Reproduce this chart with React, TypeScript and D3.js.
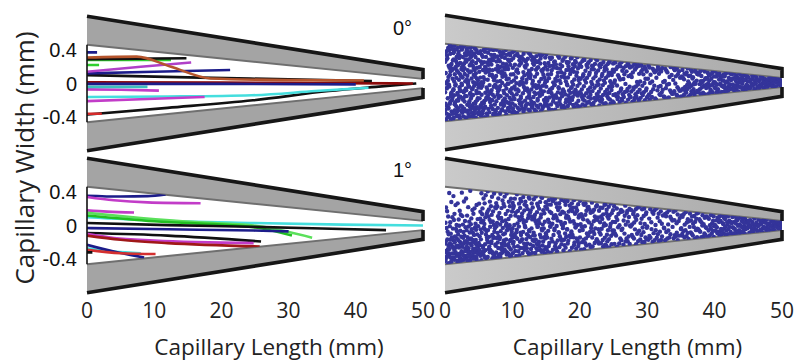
import React from "react";
import * as d3 from "d3";

// Capillary geometry (mm): length and half-widths at the wide end and at the tip
const capLength = [0, 50];
const innerHalfWidth = [0.46, 0.055];
const outerHalfWidth = [0.8, 0.165];

const xTicks = [0, 10, 20, 30, 40, 50];
const yTicks = [0.4, 0, -0.4];
const yTickLabels = ["0.4", "0", "-0.4"];
const angleLabels = ["0°", "1°"];

// Particle trajectories, [x mm, y mm] points, 0° tilt
const trajectoryColors0 = [
  "#111111", "#45dede", "#c23cc8", "#c23cc8", "#3cc0c0", "#8b0a0a", "#1c1c8a", "#111111",
  "#1c1c8a", "#b040c8", "#2fd02f", "#2fd02f", "#111111", "#b5542c", "#1c1c8a", "#d42a2a",
];
const trajectories0: [number, number][][] = [
  [[0, -0.37], [12, -0.29], [24.7, -0.2], [36, -0.09], [43, -0.04], [49, 0]],
  [[0, -0.16], [12, -0.155], [24.5, -0.14], [34, -0.09], [41.9, -0.05]],
  [[0, -0.21], [9, -0.185], [17.5, -0.16]],
  [[0, -0.07], [5, -0.075], [10.7, -0.085]],
  [[0, -0.04], [9, -0.04]],
  [[0, 0.015], [20, 0.012], [35, 0.005], [48.5, 0]],
  [[0, -0.005], [20, -0.005], [40, -0.01]],
  [[0, 0.1], [16.8, 0.07], [30, 0.05], [42.4, 0.03]],
  [[0, 0.12], [10, 0.14], [21.3, 0.16]],
  [[0, 0.14], [8, 0.2], [15.5, 0.25]],
  [[0, 0.28], [12.5, 0.28]],
  [[0, 0.22], [1.8, 0.22]],
  [[0, 0.29], [14.8, 0.3]],
  [[0, 0.31], [7.4, 0.32], [12.5, 0.2], [18.4, 0.06], [30, 0.04], [41.2, 0.035]],
  [[0, 0.37], [1.5, 0.37]],
  [[0, -0.36], [2.2, -0.36]],
];

// Particle trajectories, 1° tilt
const trajectoryColors1 = [
  "#1c1c8a", "#c23cc8", "#c23cc8", "#45dede", "#5be05b", "#22c022", "#111111", "#1c1c8a",
  "#111111", "#c23cc8", "#a01818", "#45dede", "#1c1c8a", "#d43030", "#111111",
];
const trajectories1: [number, number][][] = [
  [[0, 0.355], [5, 0.345], [9, 0.35], [11.7, 0.37]],
  [[0, 0.34], [4, 0.3], [9, 0.275], [16.9, 0.265]],
  [[0, 0.18], [3, 0.165], [7, 0.155]],
  [[0, 0.1], [10, 0.06], [24.8, 0.03], [38, 0.01], [50, 0]],
  [[0, 0.15], [8, 0.09], [16, 0.04], [24.8, 0], [33.5, -0.145]],
  [[0, 0.12], [10, 0.05], [24.8, -0.02], [30.5, -0.12]],
  [[0, 0.03], [12, 0.005], [24.2, -0.015], [35, -0.035], [44.5, -0.055]],
  [[0, -0.03], [12, -0.045], [24.8, -0.06], [30, -0.07]],
  [[0, -0.09], [12, -0.12], [25.9, -0.19]],
  [[0, -0.1], [4, -0.15], [10, -0.18], [24.8, -0.21]],
  [[0, -0.12], [5, -0.17], [12, -0.21], [25.7, -0.25]],
  [[0, -0.27], [4, -0.31], [8, -0.33]],
  [[0, -0.23], [4, -0.31], [8.5, -0.38]],
  [[0, -0.29], [5, -0.33], [10.2, -0.34]],
  [[0, -0.32], [0.8, -0.32]],
];

// Particle counts per 5 mm segment (rows) and per sixth of the channel width,
// from the upper wall (first) to the lower wall (last)
const particleCounts0 = [
  [40, 36, 32, 36, 36, 44],
  [32, 29, 25, 29, 32, 37],
  [29, 24, 21, 24, 25, 31],
  [23, 21, 20, 21, 23, 25],
  [23, 17, 15, 16, 21, 23],
  [20, 13, 9, 12, 16, 21],
  [15, 9, 7, 8, 12, 16],
  [15, 13, 12, 13, 15, 16],
  [15, 14, 14, 14, 14, 15],
  [11, 11, 11, 11, 11, 11],
];
const particleCounts1 = [
  [5, 11, 19, 28, 45, 52],
  [15, 20, 23, 26, 31, 38],
  [20, 20, 20, 23, 26, 27],
  [19, 19, 16, 19, 20, 20],
  [18, 16, 15, 15, 16, 18],
  [15, 12, 11, 11, 12, 15],
  [12, 9, 8, 8, 9, 14],
  [12, 11, 9, 11, 11, 14],
  [13, 13, 12, 13, 13, 13],
  [10, 10, 10, 10, 10, 10],
];

const W = 795;
const H = 364;
const FONT_SANS = "'Open Sans', 'Liberation Sans', sans-serif";
const FONT_ARIAL = "'Liberation Sans', Arial, sans-serif";

const xLeft = d3.scaleLinear().domain(capLength).range([87, 423]);
const xRight = d3.scaleLinear().domain(capLength).range([445, 782]);
const pxPerMm = 84;
const yScale = (center: number) =>
  d3.scaleLinear().domain([-1, 1]).range([center + pxPerMm, center - pxPerMm]);

const innerAt = d3.scaleLinear().domain(capLength).range(innerHalfWidth);
const outerAt = d3.scaleLinear().domain(capLength).range(outerHalfWidth);

type Scale = d3.ScaleLinear<number, number>;

// Radical inverse, used to spread a cell's particles evenly inside it
function halton(index: number, base: number) {
  let f = 1;
  let r = 0;
  let i = index;
  while (i > 0) {
    f /= base;
    r += f * (i % base);
    i = Math.floor(i / base);
  }
  return r;
}

function Walls({ x, y, fill }: { x: Scale; y: Scale; fill: string }) {
  const [x0, x1] = capLength;
  return (
    <g>
      {[1, -1].map((s) => {
        const poly = [
          [x(x0), y(s * outerAt(x0))],
          [x(x1), y(s * outerAt(x1))],
          [x(x1), y(s * innerAt(x1))],
          [x(x0), y(s * innerAt(x0))],
        ];
        const outerPath = `M${x(x0)},${y(s * outerAt(x0))}L${x(x1)},${y(s * outerAt(x1))}L${x(
          x1
        )},${y(s * innerAt(x1))}`;
        const innerPath = `M${x(x0)},${y(s * innerAt(x0))}L${x(x1)},${y(s * innerAt(x1))}`;
        return (
          <g key={s}>
            <polygon points={poly.map((p) => p.join(",")).join(" ")} fill={fill} />
            <path d={innerPath} stroke="#6f6f6f" strokeWidth={2} fill="none" />
            <path d={outerPath} stroke="#161616" strokeWidth={3.6} fill="none" />
          </g>
        );
      })}
    </g>
  );
}

function channelPath(x: Scale, y: Scale) {
  const [x0, x1] = capLength;
  return `M${x(x0)},${y(innerAt(x0))}L${x(x1)},${y(innerAt(x1))}L${x(x1)},${y(
    -innerAt(x1)
  )}L${x(x0)},${y(-innerAt(x0))}Z`;
}

const line = (x: Scale, y: Scale) =>
  d3
    .line<[number, number]>()
    .x((d) => x(d[0]))
    .y((d) => y(d[1]))
    .curve(d3.curveMonotoneX);

function TrajectoryPanel({
  y,
  paths,
  colors,
  label,
  clipId,
}: {
  y: Scale;
  paths: [number, number][][];
  colors: string[];
  label: string;
  clipId: string;
}) {
  const x = xLeft;
  const gen = line(x, y);
  return (
    <g>
      <Walls x={x} y={y} fill="#a4a4a4" />
      <clipPath id={clipId}>
        <path d={channelPath(x, y)} />
      </clipPath>
      <g clipPath={`url(#${clipId})`}>
        {paths.map((p, i) => (
          <path key={i} d={gen(p) || ""} stroke={colors[i]} strokeWidth={2.6} fill="none" />
        ))}
      </g>
      <line
        x1={x(0)}
        x2={x(0)}
        y1={y(innerAt(0))}
        y2={y(-innerAt(0))}
        stroke="#111"
        strokeWidth={1.6}
      />
      {yTicks.map((t, i) => (
        <text
          key={t}
          x={77}
          y={y(t)}
          dy="0.36em"
          textAnchor="end"
          fontFamily={FONT_ARIAL}
          fontSize={20}
          fill="#111"
        >
          {yTickLabels[i]}
        </text>
      ))}
      <text
        x={412}
        y={y(0.58)}
        textAnchor="end"
        fontFamily={FONT_ARIAL}
        fontSize={20}
        fill="#111"
      >
        {label}
      </text>
    </g>
  );
}

function ParticlePanel({
  y,
  counts,
  clipId,
}: {
  y: Scale;
  counts: number[][];
  clipId: string;
}) {
  const x = xRight;
  const binW = (capLength[1] - capLength[0]) / counts.length;
  const dots: { cx: number; cy: number }[] = [];
  let index = 1;
  counts.forEach((row, i) => {
    row.forEach((n, j) => {
      for (let k = 0; k < n; k++, index++) {
        const u = halton(index, 2);
        const v = halton(index, 3);
        const xm = (i + u) * binW;
        const t = (j + v) / row.length;
        const ym = innerAt(xm) * (1 - 2 * t);
        dots.push({ cx: x(xm), cy: y(ym) });
      }
    });
  });
  const grad = clipId + "-grad";
  return (
    <g>
      <defs>
        <linearGradient id={grad} x1="0" x2="1" y1="0" y2="0">
          <stop offset="0" stopColor="#cacaca" />
          <stop offset="1" stopColor="#a9a9a9" />
        </linearGradient>
      </defs>
      <Walls x={x} y={y} fill={`url(#${grad})`} />
      <clipPath id={clipId}>
        <path d={channelPath(x, y)} />
      </clipPath>
      <g clipPath={`url(#${clipId})`}>
        {dots.map((d, i) => (
          <circle key={i} cx={d.cx} cy={d.cy} r={2.2} fill="#34349a" />
        ))}
      </g>
    </g>
  );
}

function XAxis({ x }: { x: Scale }) {
  const mid = (x.range()[0] + x.range()[1]) / 2;
  return (
    <g>
      {xTicks.map((t) => (
        <text
          key={t}
          x={x(t)}
          y={318}
          textAnchor="middle"
          fontFamily={FONT_SANS}
          fontSize={21}
          fill="#222"
        >
          {t}
        </text>
      ))}
      <text
        x={mid + 14}
        y={355}
        textAnchor="middle"
        fontFamily={FONT_SANS}
        fontSize={22.5}
        fill="#222"
      >
        Capillary Length (mm)
      </text>
    </g>
  );
}

export default function App() {
  const yTop = yScale(83.5);
  const yBottom = yScale(225.5);
  const yTopRight = yScale(82.5);
  return (
    <svg
      width={W}
      height={H}
      viewBox={`0 0 ${W} ${H}`}
      style={{ position: "absolute", left: 0, top: 0, background: "#fff" }}
    >
      <rect width={W} height={H} fill="#fff" />
      <TrajectoryPanel y={yTop} paths={trajectories0} colors={trajectoryColors0} label={angleLabels[0]} clipId="tl" />
      <TrajectoryPanel y={yBottom} paths={trajectories1} colors={trajectoryColors1} label={angleLabels[1]} clipId="bl" />
      <ParticlePanel y={yTopRight} counts={particleCounts0} clipId="tr" />
      <ParticlePanel y={yBottom} counts={particleCounts1} clipId="br" />
      <XAxis x={xLeft} />
      <XAxis x={xRight} />
      <text
        transform={`translate(34,158) rotate(-90)`}
        textAnchor="middle"
        fontFamily={FONT_SANS}
        fontSize={26}
        fill="#222"
      >
        Capillary Width (mm)
      </text>
    </svg>
  );
}
